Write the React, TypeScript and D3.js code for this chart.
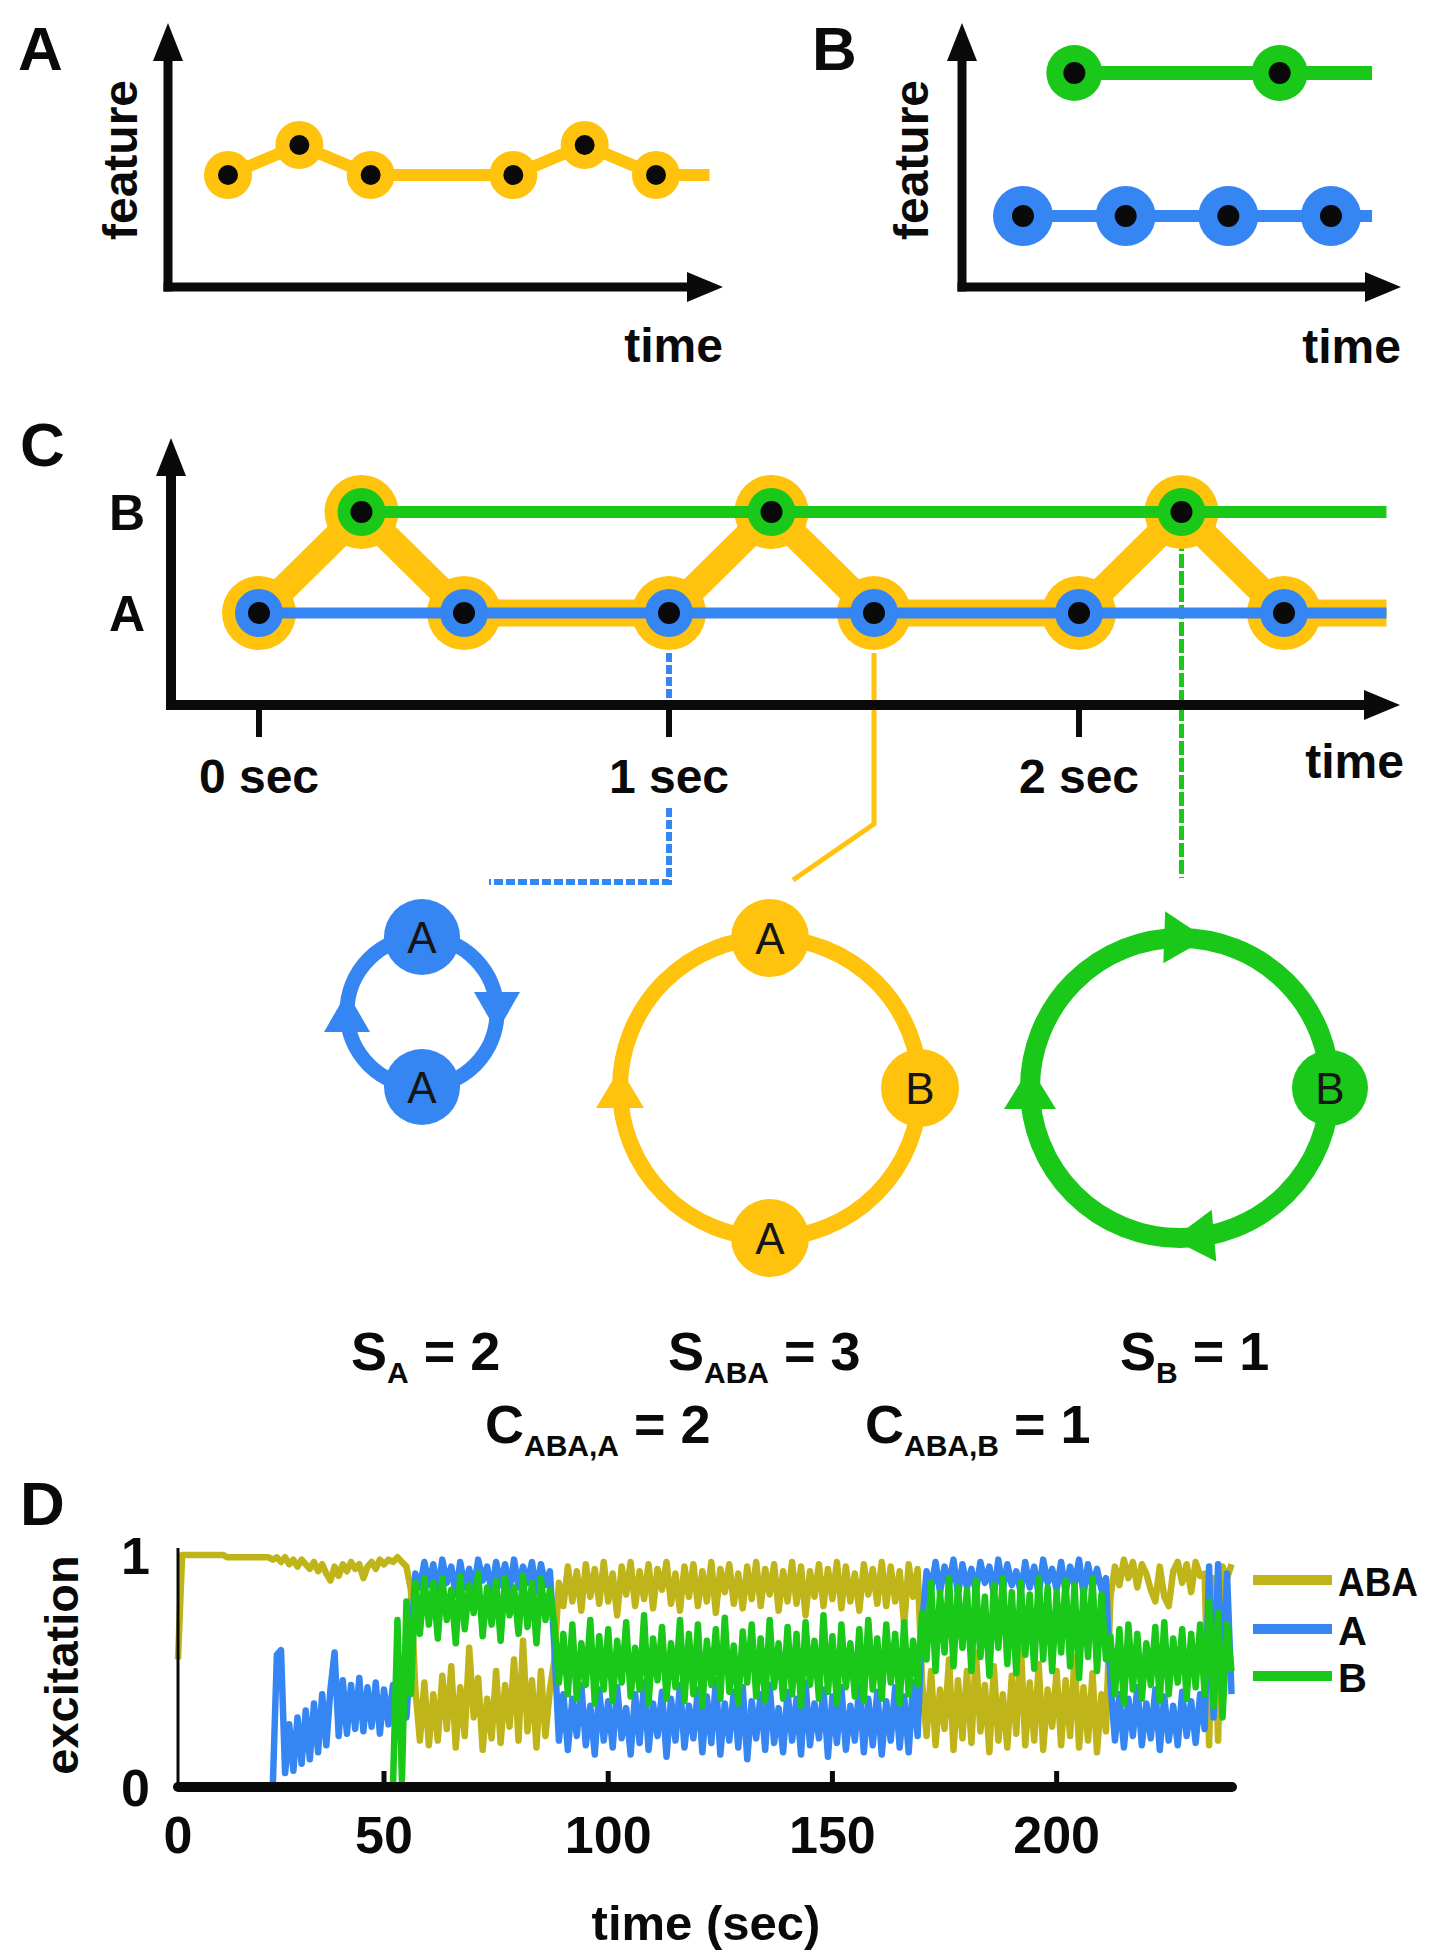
import React from "react";
import * as d3 from "d3";

const W = 1429;
const H = 1955;
const FONT = "'Liberation Sans', Arial, Helvetica, sans-serif";

const YELLOW = "#FFC30D";
const BLUE = "#3585F2";
const GREEN = "#19C819";
const OLIVE = "#BFB51A";
const INK = "#0a0a0a";

// panel A: ABA _ ABA on one feature
const seqATimes = [0, 1, 2, 4, 5, 6];
const seqALevels = [0, 1, 0, 0, 1, 0];
const seqAEnd = 6.75;

// panel B: two separate streams
const streamATimes = [0, 1, 2, 3];
const streamBTimes = [0.5, 2.5];
const streamEnd = 3.4;

// panel C: the ABA- triplet sequence
const tokenTimes = [0, 0.25, 0.5, 1, 1.25, 1.5, 2, 2.25, 2.5];
const tokenSymbols = ["A", "B", "A", "A", "B", "A", "A", "B", "A"];
const secTicks = [0, 1, 2];
const secTickLabels = ["0 sec", "1 sec", "2 sec"];
const seqCEnd = 2.75;

// cycles found in C
const cycleNodes = [["A", "A"], ["A", "B", "A"], ["B"]];
const sizeSubs = ["A", "ABA", "B"];
const sizeValues = [2, 3, 1];
const coverSubs = ["ABA,A", "ABA,B"];
const coverValues = [2, 1];

// panel D: excitation per second
const excABA = [
  0.55, 1, 1, 1, 1, 1, 1, 1, 1, 1, 1, 1, 0.99, 0.99, 0.99, 0.99, 0.99, 0.99, 0.99, 0.99,
  0.99, 0.99, 0.99, 0.98, 0.99, 0.97, 0.99, 0.96, 0.98, 0.95, 0.98, 0.96, 0.94, 0.97, 0.93, 0.96, 0.92, 0.89, 0.95, 0.91,
  0.96, 0.93, 0.97, 0.94, 0.96, 0.9, 0.95, 0.97, 0.94, 0.98, 0.96, 0.98, 0.97, 0.99, 0.97, 0.95, 0.85, 0.42, 0.2, 0.45,
  0.18, 0.4, 0.2, 0.48, 0.25, 0.52, 0.17, 0.43, 0.22, 0.6, 0.3, 0.47, 0.16, 0.38, 0.21, 0.5, 0.19, 0.44, 0.26, 0.55,
  0.2, 0.63, 0.24, 0.46, 0.17, 0.5, 0.22, 0.42, 0.55, 0.88, 0.78, 0.95, 0.8, 0.93, 0.76, 0.96, 0.82, 0.94, 0.79, 0.97,
  0.8, 0.92, 0.74, 0.95, 0.83, 0.97, 0.78, 0.93, 0.81, 0.96, 0.77, 0.94, 0.85, 0.97, 0.79, 0.92, 0.76, 0.95, 0.82, 0.96,
  0.78, 0.93, 0.8, 0.97, 0.75, 0.94, 0.84, 0.96, 0.79, 0.92, 0.77, 0.95, 0.81, 0.97, 0.78, 0.94, 0.83, 0.96, 0.76, 0.93,
  0.8, 0.97, 0.79, 0.95, 0.74, 0.93, 0.82, 0.96, 0.78, 0.94, 0.81, 0.97, 0.77, 0.95, 0.8, 0.92, 0.76, 0.96, 0.83, 0.94,
  0.79, 0.97, 0.78, 0.95, 0.8, 0.93, 0.7, 0.96, 0.82, 0.94, 0.45, 0.22, 0.5, 0.18, 0.42, 0.25, 0.55, 0.16, 0.46, 0.21,
  0.5, 0.19, 0.58, 0.24, 0.44, 0.15, 0.52, 0.2, 0.4, 0.17, 0.48, 0.23, 0.62, 0.18, 0.45, 0.2, 0.53, 0.16, 0.42, 0.26,
  0.5, 0.18, 0.46, 0.22, 0.56, 0.17, 0.43, 0.2, 0.49, 0.15, 0.4, 0.24, 0.82, 0.95, 0.87, 0.98, 0.9, 0.97, 0.86, 0.96,
  0.92, 0.85, 0.8, 0.95, 0.82, 0.78, 0.93, 0.97, 0.88, 0.96, 0.84, 0.97, 0.91, 0.92, 0.18, 0.9, 0.2, 0.95, 0.9, 0.96,
];
const excA = [
  0, 0, 0, 0, 0, 0, 0, 0, 0, 0, 0, 0, 0, 0, 0, 0, 0, 0, 0, 0,
  0, 0, 0, 0, 0.57, 0.59, 0.06, 0.27, 0.07, 0.3, 0.1, 0.33, 0.12, 0.36, 0.15, 0.4, 0.18, 0.42, 0.58, 0.22,
  0.46, 0.23, 0.44, 0.25, 0.47, 0.24, 0.43, 0.26, 0.45, 0.23, 0.42, 0.27, 0.44, 0.25, 0.4, 0.3, 0.6, 0.92, 0.86, 0.97,
  0.87, 0.96, 0.84, 0.98, 0.88, 0.95, 0.83, 0.97, 0.86, 0.94, 0.85, 0.98, 0.89, 0.95, 0.84, 0.97, 0.87, 0.96, 0.85, 0.98,
  0.86, 0.95, 0.88, 0.97, 0.84, 0.96, 0.87, 0.93, 0.6, 0.2, 0.4, 0.16, 0.38, 0.22, 0.44, 0.18, 0.35, 0.14, 0.42, 0.2,
  0.37, 0.17, 0.43, 0.21, 0.34, 0.14, 0.4, 0.19, 0.45, 0.16, 0.36, 0.22, 0.41, 0.13, 0.38, 0.2, 0.44, 0.17, 0.35, 0.21,
  0.42, 0.15, 0.39, 0.19, 0.46, 0.14, 0.36, 0.2, 0.41, 0.17, 0.43, 0.12, 0.37, 0.21, 0.4, 0.16, 0.44, 0.19, 0.34, 0.15,
  0.41, 0.2, 0.38, 0.14, 0.45, 0.18, 0.36, 0.21, 0.42, 0.13, 0.39, 0.19, 0.43, 0.16, 0.35, 0.2, 0.44, 0.15, 0.38, 0.18,
  0.41, 0.14, 0.37, 0.2, 0.43, 0.17, 0.39, 0.15, 0.45, 0.22, 0.7, 0.93, 0.85, 0.97, 0.84, 0.95, 0.87, 0.98, 0.83, 0.96,
  0.86, 0.94, 0.84, 0.97, 0.88, 0.95, 0.83, 0.98, 0.85, 0.96, 0.87, 0.93, 0.84, 0.97, 0.86, 0.95, 0.83, 0.98, 0.88, 0.94,
  0.85, 0.97, 0.84, 0.95, 0.87, 0.98, 0.83, 0.96, 0.86, 0.94, 0.85, 0.9, 0.45, 0.2, 0.4, 0.17, 0.38, 0.22, 0.43, 0.18,
  0.36, 0.21, 0.42, 0.16, 0.39, 0.2, 0.35, 0.18, 0.41, 0.22, 0.37, 0.19, 0.4, 0.25, 0.95, 0.3, 0.96, 0.35, 0.92, 0.4,
];
const excB = [
  0, 0, 0, 0, 0, 0, 0, 0, 0, 0, 0, 0, 0, 0, 0, 0, 0, 0, 0, 0,
  0, 0, 0, 0, 0, 0, 0, 0, 0, 0, 0, 0, 0, 0, 0, 0, 0, 0, 0, 0,
  0, 0, 0, 0, 0, 0, 0, 0, 0, 0, 0, 0, 0, 0.72, 0.03, 0.8, 0.4, 0.88, 0.66, 0.9,
  0.7, 0.88, 0.64, 0.9, 0.72, 0.85, 0.62, 0.91, 0.68, 0.87, 0.75, 0.92, 0.65, 0.86, 0.7, 0.89, 0.63, 0.9, 0.74, 0.86,
  0.66, 0.91, 0.69, 0.88, 0.62, 0.9, 0.72, 0.85, 0.7, 0.45, 0.66, 0.4, 0.7, 0.38, 0.62, 0.44, 0.72, 0.36, 0.65, 0.42,
  0.68, 0.37, 0.63, 0.45, 0.71, 0.39, 0.6, 0.42, 0.74, 0.36, 0.64, 0.46, 0.69, 0.38, 0.62, 0.43, 0.72, 0.37, 0.66, 0.4,
  0.7, 0.35, 0.63, 0.44, 0.68, 0.38, 0.73, 0.41, 0.61, 0.36, 0.67, 0.45, 0.7, 0.39, 0.64, 0.37, 0.72, 0.43, 0.62, 0.38,
  0.69, 0.4, 0.66, 0.35, 0.71, 0.44, 0.63, 0.38, 0.74, 0.41, 0.65, 0.36, 0.7, 0.43, 0.62, 0.39, 0.68, 0.37, 0.72, 0.42,
  0.64, 0.38, 0.7, 0.45, 0.66, 0.36, 0.71, 0.4, 0.63, 0.44, 0.75, 0.55, 0.88, 0.5, 0.84, 0.58, 0.9, 0.52, 0.86, 0.6,
  0.85, 0.5, 0.89, 0.56, 0.82, 0.48, 0.87, 0.6, 0.9, 0.53, 0.84, 0.49, 0.88, 0.57, 0.83, 0.51, 0.9, 0.55, 0.86, 0.5,
  0.84, 0.58, 0.89, 0.52, 0.87, 0.47, 0.85, 0.56, 0.9, 0.5, 0.83, 0.55, 0.65, 0.4, 0.68, 0.36, 0.7, 0.42, 0.66, 0.38,
  0.62, 0.44, 0.69, 0.37, 0.71, 0.4, 0.64, 0.45, 0.68, 0.38, 0.66, 0.43, 0.7, 0.4, 0.8, 0.35, 0.75, 0.3, 0.7, 0.5,
];
const dTicks = [0, 50, 100, 150, 200];
const dYTicks = [0, 1];
const seriesNames = ["ABA", "A", "B"];

// ---------- helpers
function arrowHead(tip: [number, number], dir: [number, number], len: number, half: number) {
  const [tx, ty] = tip;
  const [dx, dy] = dir;
  const bx = tx - dx * len;
  const by = ty - dy * len;
  const nx = -dy;
  const ny = dx;
  return `${tx},${ty} ${bx + nx * half},${by + ny * half} ${bx - nx * half},${by - ny * half}`;
}

function ArrowAxes({ ox, oy, top, right, sw }: { ox: number; oy: number; top: number; right: number; sw: number }) {
  return (
    <g>
      <line x1={ox} y1={oy + sw / 2} x2={ox} y2={top + 30} stroke={INK} strokeWidth={sw} />
      <polygon points={arrowHead([ox, top], [0, -1], 38, 15)} fill={INK} />
      <line x1={ox - sw / 2} y1={oy} x2={right - 30} y2={oy} stroke={INK} strokeWidth={sw} />
      <polygon points={arrowHead([right, oy], [1, 0], 36, 15)} fill={INK} />
    </g>
  );
}

const bold = { fontFamily: FONT, fontWeight: 700, fill: INK } as const;

// ---------- panel A
function PanelA() {
  const x = d3.scaleLinear().domain([0, 6]).range([228, 656]);
  const y = d3.scaleLinear().domain([0, 1]).range([175, 145]);
  const pts: [number, number][] = seqATimes.map((t, i) => [t, seqALevels[i]]);
  const line = d3.line<[number, number]>().x((d) => x(d[0])).y((d) => y(d[1]));
  return (
    <g>
      <text x={18} y={70} fontSize={62} {...bold}>A</text>
      <ArrowAxes ox={168} oy={287} top={23} right={723} sw={9} />
      <text transform="translate(137,160) rotate(-90)" textAnchor="middle" fontSize={48} {...bold}>feature</text>
      <text x={723} y={362} textAnchor="end" fontSize={48} {...bold}>time</text>
      <path d={line([...pts, [seqAEnd, 0]]) || ""} fill="none" stroke={YELLOW} strokeWidth={12} strokeLinejoin="round" />
      {pts.map((d, i) => (
        <g key={i}>
          <circle cx={x(d[0])} cy={y(d[1])} r={24} fill={YELLOW} />
          <circle cx={x(d[0])} cy={y(d[1])} r={10} fill={INK} />
        </g>
      ))}
    </g>
  );
}

// ---------- panel B
function PanelB() {
  const x = d3.scaleLinear().domain([0, 3]).range([1023, 1331]);
  const y = d3.scaleOrdinal<string, number>().domain(["A", "B"]).range([216, 73]);
  return (
    <g>
      <text x={812} y={70} fontSize={62} {...bold}>B</text>
      <ArrowAxes ox={962} oy={287} top={23} right={1401} sw={9} />
      <text transform="translate(928,160) rotate(-90)" textAnchor="middle" fontSize={48} {...bold}>feature</text>
      <text x={1401} y={363} textAnchor="end" fontSize={48} {...bold}>time</text>
      <line x1={x(streamBTimes[0])} x2={x(streamEnd)} y1={y("B")} y2={y("B")} stroke={GREEN} strokeWidth={14} />
      <line x1={x(streamATimes[0])} x2={x(streamEnd)} y1={y("A")} y2={y("A")} stroke={BLUE} strokeWidth={12} />
      {streamBTimes.map((t) => (
        <g key={"b" + t}>
          <circle cx={x(t)} cy={y("B")} r={28} fill={GREEN} />
          <circle cx={x(t)} cy={y("B")} r={11} fill={INK} />
        </g>
      ))}
      {streamATimes.map((t) => (
        <g key={"a" + t}>
          <circle cx={x(t)} cy={y("A")} r={30} fill={BLUE} />
          <circle cx={x(t)} cy={y("A")} r={11} fill={INK} />
        </g>
      ))}
    </g>
  );
}

// ---------- panel C
function PanelC() {
  const x = d3.scaleLinear().domain([0, 1]).range([259, 669]);
  const y = d3.scaleOrdinal<string, number>().domain(["A", "B"]).range([613, 512]);
  const axisY = 705;
  const tokens = tokenTimes.map((t, i) => ({ t, s: tokenSymbols[i] }));
  const path = d3.line<{ t: number; s: string }>().x((d) => x(d.t)).y((d) => y(d.s));
  const aTok = tokens.filter((d) => d.s === "A");
  const bTok = tokens.filter((d) => d.s === "B");
  const col = (s: string) => (s === "A" ? BLUE : GREEN);

  // connectors down to the cycles
  const xBlue = x(aTok[2].t);
  const xYel = x(aTok[3].t);
  const xGrn = x(bTok[2].t);
  const blue2 = d3.line()([[xBlue, 808], [xBlue, 882], [489, 882]]) || "";
  const yel = d3.line()([[xYel, y("A") + 40], [xYel, 824], [793, 880]]) || "";

  return (
    <g>
      <text x={20} y={466} fontSize={62} {...bold}>C</text>
      <text x={145} y={530} textAnchor="end" fontSize={50} {...bold}>B</text>
      <text x={145} y={631} textAnchor="end" fontSize={50} {...bold}>A</text>

      <line x1={xBlue} x2={xBlue} y1={y("A") + 40} y2={axisY - 4} stroke={BLUE} strokeWidth={6} strokeDasharray="9 3" />
      <path d={blue2} fill="none" stroke={BLUE} strokeWidth={6} strokeDasharray="9 3" />
      <path d={yel} fill="none" stroke={YELLOW} strokeWidth={5} />
      <line x1={xGrn} x2={xGrn} y1={y("B") + 25} y2={878} stroke={GREEN} strokeWidth={5} strokeDasharray="14 3" />

      <ArrowAxes ox={171} oy={axisY} top={438} right={1400} sw={10} />
      {secTicks.map((t, i) => (
        <g key={t}>
          <line x1={x(t)} x2={x(t)} y1={axisY} y2={737} stroke={INK} strokeWidth={6} />
          <text x={x(t)} y={793} textAnchor="middle" fontSize={48} {...bold}>{secTickLabels[i]}</text>
        </g>
      ))}
      <text x={1404} y={778} textAnchor="end" fontSize={48} {...bold}>time</text>

      <path d={path([...tokens, { t: seqCEnd, s: "A" }]) || ""} fill="none" stroke={YELLOW} strokeWidth={27} strokeLinejoin="round" />
      {tokens.map((d, i) => (
        <circle key={"y" + i} cx={x(d.t)} cy={y(d.s)} r={37} fill={YELLOW} />
      ))}
      <line x1={x(aTok[0].t)} x2={x(seqCEnd)} y1={y("A")} y2={y("A")} stroke={BLUE} strokeWidth={11} />
      <line x1={x(bTok[0].t)} x2={x(seqCEnd)} y1={y("B")} y2={y("B")} stroke={GREEN} strokeWidth={12} />
      {tokens.map((d, i) => (
        <g key={"p" + i}>
          <circle cx={x(d.t)} cy={y(d.s)} r={24} fill={col(d.s)} />
          <circle cx={x(d.t)} cy={y(d.s)} r={11} fill={INK} />
        </g>
      ))}
    </g>
  );
}

// ---------- cycles
const cycleLayout = [
  { cx: 422, cy: 1012, r: 75, sw: 15, color: BLUE, nodeAngles: [-90, 90], arrowAngles: [180, 0], nodeR: 38, aLen: 40, aBase: 46 },
  { cx: 770, cy: 1088, r: 150, sw: 16, color: YELLOW, nodeAngles: [-90, 0, 90], arrowAngles: [180], nodeR: 39, aLen: 40, aBase: 48 },
  { cx: 1180, cy: 1088, r: 150, sw: 20, color: GREEN, nodeAngles: [0], arrowAngles: [-88, 180, 85], nodeR: 38, aLen: 42, aBase: 52 },
];

function Cycles() {
  const rad = (a: number) => (a * Math.PI) / 180;
  return (
    <g>
      {cycleLayout.map((c, ci) => (
        <g key={ci}>
          <circle cx={c.cx} cy={c.cy} r={c.r} fill="none" stroke={c.color} strokeWidth={c.sw} />
          {c.arrowAngles.map((a, k) => {
            const px = c.cx + c.r * Math.cos(rad(a));
            const py = c.cy + c.r * Math.sin(rad(a));
            const dir: [number, number] = [-Math.sin(rad(a)), Math.cos(rad(a))];
            const tip: [number, number] = [px + (dir[0] * c.aLen) / 2, py + (dir[1] * c.aLen) / 2];
            return <polygon key={k} points={arrowHead(tip, dir, c.aLen, c.aBase / 2)} fill={c.color} />;
          })}
          {cycleNodes[ci].map((s, k) => {
            const a = c.nodeAngles[k];
            const px = c.cx + c.r * Math.cos(rad(a));
            const py = c.cy + c.r * Math.sin(rad(a));
            return (
              <g key={"n" + k}>
                <circle cx={px} cy={py} r={c.nodeR} fill={c.color} />
                <text x={px} y={py + 16} textAnchor="middle" fontSize={44} fontFamily={FONT} fill="#161616">{s}</text>
              </g>
            );
          })}
        </g>
      ))}
    </g>
  );
}

function Measures() {
  const sizeX = [351, 668, 1120];
  const coverX = [485, 865];
  return (
    <g fontSize={54} {...bold}>
      {sizeSubs.map((s, i) => (
        <text key={s} x={sizeX[i]} y={1370}>
          S<tspan fontSize={30} dy={13}>{s}</tspan>
          <tspan dy={-13}>{" = " + sizeValues[i]}</tspan>
        </text>
      ))}
      {coverSubs.map((s, i) => (
        <text key={s} x={coverX[i]} y={1443}>
          C<tspan fontSize={30} dy={13}>{s}</tspan>
          <tspan dy={-13}>{" = " + coverValues[i]}</tspan>
        </text>
      ))}
    </g>
  );
}

// ---------- panel D
function PanelD() {
  const x = d3.scaleLinear().domain([0, 50, 240]).range([178, 384, 1236]);
  const y = d3.scaleLinear().domain([0, 1]).range([1787, 1555]);
  const line = d3.line<number>().x((_, i) => x(i)).y((v) => y(v));
  const series = [excABA, excA, excB];
  const colors = [OLIVE, BLUE, GREEN];
  const legendY = [1580, 1629, 1676];
  return (
    <g>
      <text x={20} y={1525} fontSize={62} {...bold}>D</text>
      {series.map((s, i) => (
        <path key={i} d={line(s) || ""} fill="none" stroke={colors[i]} strokeWidth={6.5} strokeLinejoin="round" />
      ))}
      <line x1={178} x2={178} y1={1548} y2={1787} stroke={INK} strokeWidth={3} />
      <line x1={x(0)} x2={x(240) - 4} y1={y(0)} y2={y(0)} stroke={INK} strokeWidth={10} strokeLinecap="round" />
      {dTicks.map((t) => (
        <g key={t}>
          {t > 0 && <line x1={x(t)} x2={x(t)} y1={y(0)} y2={y(0) - 16} stroke={INK} strokeWidth={5} />}
          <text x={x(t)} y={1853} textAnchor="middle" fontSize={52} {...bold}>{t}</text>
        </g>
      ))}
      {dYTicks.map((v) => (
        <text key={v} x={150} y={y(v) + 19} textAnchor="end" fontSize={52} {...bold}>{v}</text>
      ))}
      <text transform="translate(78,1665) rotate(-90)" textAnchor="middle" fontSize={47} {...bold}>excitation</text>
      <text x={706} y={1940} textAnchor="middle" fontSize={49} {...bold}>time (sec)</text>
      {seriesNames.map((n, i) => (
        <g key={n}>
          <line x1={1253} x2={1332} y1={legendY[i]} y2={legendY[i]} stroke={colors[i]} strokeWidth={10} />
          <text x={1338} y={legendY[i] + 16} fontSize={40} {...bold} textLength={n.length > 1 ? 80 : undefined} lengthAdjust="spacingAndGlyphs">{n}</text>
        </g>
      ))}
    </g>
  );
}

export default function App() {
  return (
    <svg width={W} height={H} viewBox={`0 0 ${W} ${H}`} style={{ position: "absolute", left: 0, top: 0, background: "#fff" }}>
      <rect width={W} height={H} fill="#fff" />
      <PanelA />
      <PanelB />
      <PanelC />
      <Cycles />
      <Measures />
      <PanelD />
    </svg>
  );
}
